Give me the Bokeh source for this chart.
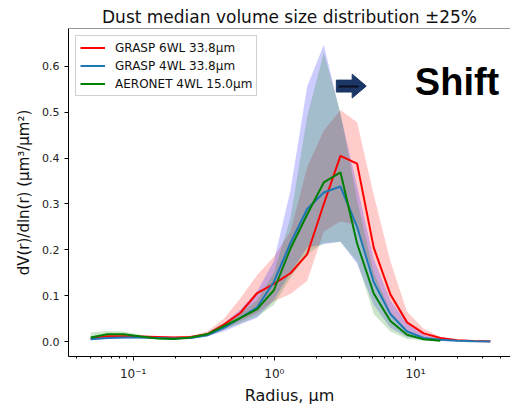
from bokeh.plotting import figure
from bokeh.models import (Range1d, Span, LogTicker, SingleIntervalTicker,
                          PrintfTickFormatter, CustomJSTickFormatter)
from bokeh.core.properties import value
from bokeh.embed import file_html
from bokeh.resources import INLINE

# ---------------- data ----------------
r_grasp = [0.05, 0.0656, 0.0861, 0.1129, 0.1482, 0.1944, 0.2551, 0.3347, 0.4392,
           0.5762, 0.7561, 0.9920, 1.3016, 1.7078, 2.2407, 2.9400, 3.8575, 5.0613,
           6.6407, 8.7131, 11.4323, 15.0, 19.68, 25.82, 33.88]
r_aeronet = r_grasp[:22]

grasp6_med = [0.006, 0.012, 0.012, 0.011, 0.010, 0.009, 0.010, 0.016, 0.037, 0.063, 0.106,
              0.126, 0.149, 0.190, 0.300, 0.405, 0.388, 0.205, 0.103, 0.042, 0.018, 0.008,
              0.003, 0.0015, 0.001]
grasp6_lo = [0.004, 0.009, 0.009, 0.009, 0.008, 0.007, 0.008, 0.012, 0.027, 0.045, 0.062,
             0.088, 0.104, 0.132, 0.240, 0.262, 0.255, 0.140, 0.060, 0.020, 0.008, 0.003,
             0.0015, 0.0007, 0.0004]
grasp6_hi = [0.008, 0.015, 0.015, 0.013, 0.012, 0.011, 0.013, 0.022, 0.050, 0.095, 0.145,
             0.185, 0.240, 0.380, 0.460, 0.505, 0.478, 0.320, 0.175, 0.065, 0.028, 0.010,
             0.005, 0.003, 0.002]

grasp4_med = [0.005, 0.008, 0.009, 0.009, 0.008, 0.007, 0.008, 0.014, 0.030, 0.052, 0.075,
              0.130, 0.215, 0.289, 0.325, 0.338, 0.250, 0.130, 0.060, 0.022, 0.008, 0.004,
              0.002, 0.001, 0.0005]
grasp4_lo = [0.004, 0.006, 0.007, 0.007, 0.006, 0.006, 0.006, 0.011, 0.022, 0.038, 0.052,
             0.090, 0.150, 0.205, 0.212, 0.218, 0.170, 0.080, 0.030, 0.010, 0.004, 0.0015,
             0.0008, 0.0004, 0.0002]
grasp4_hi = [0.007, 0.010, 0.011, 0.011, 0.010, 0.009, 0.011, 0.019, 0.040, 0.070, 0.110,
             0.175, 0.330, 0.556, 0.647, 0.495, 0.340, 0.180, 0.090, 0.040, 0.015, 0.006,
             0.003, 0.0015, 0.001]

aeronet_med = [0.009, 0.016, 0.016, 0.011, 0.007, 0.006, 0.009, 0.016, 0.034, 0.052, 0.071,
               0.112, 0.203, 0.277, 0.347, 0.369, 0.214, 0.105, 0.045, 0.015, 0.005, 0.002]
aeronet_lo = [0.005, 0.011, 0.012, 0.009, 0.006, 0.005, 0.007, 0.012, 0.026, 0.040, 0.055,
              0.080, 0.140, 0.190, 0.215, 0.217, 0.175, 0.060, 0.022, 0.006, 0.002, 0.001]
aeronet_hi = [0.020, 0.023, 0.022, 0.015, 0.009, 0.008, 0.011, 0.020, 0.040, 0.062, 0.090,
              0.150, 0.270, 0.490, 0.630, 0.500, 0.310, 0.150, 0.065, 0.025, 0.008, 0.003]

labels = ["GRASP 6WL 33.8\u03bcm", "GRASP 4WL 33.8\u03bcm", "AERONET 4WL 15.0\u03bcm"]

# annotation: arrow polygon (data coords) and "Shift" text
arrow_x = [2.75, 3.56, 3.56, 4.48, 3.56, 3.56, 2.75]
arrow_y = [0.570, 0.570, 0.583, 0.557, 0.531, 0.544, 0.544]
arrow_bar_x = [2.85, 3.95]
arrow_bar_y = [0.556, 0.556]
shift_x = [19.7]
shift_y = [0.566]
shift_text = ["Shift"]

FONT = "DejaVu Sans"

p = figure(width=510, height=407, x_axis_type="log",
           x_range=Range1d(10 ** -1.458, 10 ** 1.673),
           y_range=Range1d(-0.0324, 0.6825),
           output_backend="svg", toolbar_location=None,
           min_border_left=68, min_border_right=0, min_border_top=28, min_border_bottom=48,
           title="Dust median volume size distribution \u00b125%")
p.title.align = "center"
p.title.text_font = FONT
p.title.text_font_size = "17px"
p.title.text_font_style = "normal"
p.title.text_color = "#111111"
p.title.standoff = 3

p.background_fill_color = "white"
p.border_fill_color = "white"
p.outline_line_color = None
p.grid.grid_line_color = None

# bands
p.varea(x=r_grasp, y1=grasp6_lo, y2=grasp6_hi, fill_color="red", fill_alpha=0.2)
p.varea(x=r_grasp, y1=grasp4_lo, y2=grasp4_hi, fill_color="blue", fill_alpha=0.2)
p.varea(x=r_aeronet, y1=aeronet_lo, y2=aeronet_hi, fill_color="green", fill_alpha=0.2)

# median lines
p.line(r_grasp, grasp6_med, line_color="red", line_width=2, legend_label=labels[0])
p.line(r_grasp, grasp4_med, line_color="#1f77b4", line_width=2, legend_label=labels[1])
p.line(r_aeronet, aeronet_med, line_color="green", line_width=2, legend_label=labels[2])

# arrow + Shift
p.patch(arrow_x, arrow_y, fill_color="#1c3766", line_color="#1c3766", line_width=1)
p.line(arrow_bar_x, arrow_bar_y, line_color="#0a0f1e", line_width=2)
p.text(x=shift_x, y=shift_y, text=shift_text, text_font=value("Liberation Sans"),
       text_font_style="bold", text_font_size="38px", text_align="center",
       text_baseline="middle", text_color="black")

# top spine
p.add_layout(Span(location=0.6825, dimension="width", line_color="#333333", line_width=1))

# axes
p.xaxis.ticker = LogTicker(num_minor_ticks=10)
p.xaxis.formatter = CustomJSTickFormatter(code="""
const e = Math.round(Math.log10(tick));
const sup = {'-':'\u207b','0':'\u2070','1':'\u00b9','2':'\u00b2','3':'\u00b3','4':'\u2074',
             '5':'\u2075','6':'\u2076','7':'\u2077','8':'\u2078','9':'\u2079'};
return '10' + String(e).split('').map(c => sup[c]).join('');
""")
p.yaxis.ticker = SingleIntervalTicker(interval=0.1, num_minor_ticks=0)
p.yaxis.formatter = PrintfTickFormatter(format="%.1f")

for ax in (p.xaxis[0], p.yaxis[0]):
    ax.axis_line_color = "black"
    ax.axis_line_width = 1
    ax.major_tick_line_color = "black"
    ax.minor_tick_line_color = "black"
    ax.major_tick_in = 0
    ax.major_tick_out = 4
    ax.minor_tick_in = 0
    ax.minor_tick_out = 2
    ax.major_label_text_font = FONT
    ax.major_label_text_font_size = "11px"
    ax.major_label_text_color = "#222222"
    ax.axis_label_text_font = FONT
    ax.axis_label_text_font_style = "normal"
    ax.axis_label_text_color = "#111111"
    ax.axis_label_text_font_size = "15px"
    ax.major_label_standoff = 5
    ax.axis_label_standoff = 6

p.xaxis.major_label_text_font_size = "12px"
p.xaxis.major_label_standoff = 6
p.xaxis.axis_label_standoff = 2
p.xaxis.axis_label = "Radius, \u03bcm"
p.xaxis.axis_label_text_font_size = "16px"
p.yaxis.minor_tick_line_color = None
p.yaxis.axis_label = "dV(r)/dln(r) (\u03bcm\u00b3/\u03bcm\u00b2)"

# legend
lg = p.legend[0]
lg.location = "top_left"
lg.margin = 7
lg.padding = 4
lg.spacing = 3
lg.label_text_font = FONT
lg.label_text_font_size = "12px"
lg.label_text_color = "#111111"
lg.label_height = 15
lg.glyph_height = 15
lg.glyph_width = 25
lg.label_standoff = 10
lg.border_line_color = "#cccccc"
lg.border_line_alpha = 0.9
lg.background_fill_alpha = 0.8

open("out.html", "w").write(file_html(p, INLINE))
